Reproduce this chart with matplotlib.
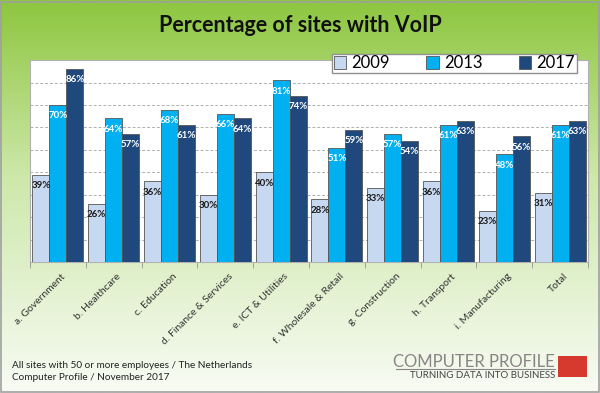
import matplotlib.pyplot as plt
import matplotlib.patches as mpatches
import matplotlib.lines as mlines
import numpy as np

categories = ['a. Government', 'b. Healthcare', 'c. Education', 'd. Finance & Services',
              'e. ICT & Utilities', 'f. Wholesale & Retail', 'g. Construction',
              'h. Transport', 'i. Manufacturing', 'Total']
years = ['2009', '2013', '2017']
v2009 = [39, 26, 36, 30, 40, 28, 33, 36, 23, 31]
v2013 = [70, 64, 68, 66, 81, 51, 57, 61, 48, 61]
v2017 = [86, 57, 61, 64, 74, 59, 54, 63, 56, 63]

colors = ['#c6d9f1', '#00b0f0', '#1f497d']
label_colors = ['#1a1a1a', 'white', 'white']

fig = plt.figure(figsize=(6.0, 3.93), dpi=100)
plt.rcParams['font.family'] = ['Lato', 'DejaVu Sans']

# gradient background
bg = fig.add_axes([0, 0, 1, 1], zorder=-10)
top = np.array([141, 198, 63]) / 255
mid = np.array([205, 232, 170]) / 255
bot = np.array([248, 251, 244]) / 255
t = np.linspace(0, 1, 256)[:, None]
grad = np.where(t < 0.45, top + (mid - top) * (t / 0.45),
                mid + (bot - mid) * ((t - 0.45) / 0.55))
bg.imshow(grad[:, None, :], aspect='auto', extent=[0, 1, 0, 1])
bg.set_xlim(0, 1)
bg.set_ylim(0, 1)
bg.axis('off')
fig.patches.append(mpatches.Rectangle((0.002, 0.002), 0.996, 0.994, transform=fig.transFigure,
                                      fill=False, edgecolor='#a0a0a0', linewidth=1.2))

ax = fig.add_axes([0.05, 0.333, 0.93, 0.514])
x = np.arange(len(categories))
w = 0.305
for i, (vals, c, lc) in enumerate(zip([v2009, v2013, v2017], colors, label_colors)):
    bars = ax.bar(x + (i - 1) * w, vals, w, color=c, edgecolor='#555555',
                  linewidth=0.6, label=years[i], zorder=3)
    for b, v in zip(bars, vals):
        ax.text(b.get_x() + b.get_width() / 2, v - 4.8, f'{v}%', ha='center',
                va='center', fontsize=7, fontweight='bold', color=lc, zorder=4)

ax.set_ylim(0, 90)
ax.set_xlim(-0.5, len(categories) - 0.5)
ax.set_yticks(np.arange(10, 90, 10))
ax.tick_params(axis='y', length=0, labelleft=False)
ax.yaxis.grid(True, linestyle=(0, (3, 2)), color='#b0b0b0', linewidth=0.7, zorder=0)
ax.set_xticks(x + 0.05)
ax.set_xticklabels(categories, rotation=45, ha='right', rotation_mode='anchor',
                   fontsize=7.5, color='#333333')
ax.tick_params(axis='x', length=0, pad=7)
ax.set_xticks(np.arange(-0.5, len(categories), 1), minor=True)
ax.tick_params(axis='x', which='minor', length=4, color='#999999')
for s in ax.spines.values():
    s.set_color('#b0b0b0')
ax.set_facecolor('white')

fig.legend(loc='center', bbox_to_anchor=(0.757, 0.839), ncol=3, fontsize=12,
           frameon=True, fancybox=False, edgecolor='#909090', framealpha=1,
           handlelength=0.75, handleheight=0.75, columnspacing=2.2,
           borderpad=0.1, handletextpad=0.3, borderaxespad=0)

fig.text(0.5, 0.936, 'Percentage of sites with VoIP', ha='center', va='center',
         fontsize=15.5, fontweight='bold', color='#111111')
fig.text(0.02, 0.071, 'All sites with 50 or more employees / The Netherlands',
         fontsize=7.2, color='#222222', va='center')
fig.text(0.02, 0.040, 'Computer Profile / November 2017',
         fontsize=7.2, color='#222222', va='center')

# logo
fig.text(0.925, 0.080, 'COMPUTER PROFILE', ha='right', va='center', fontsize=12,
         color='#8a8585')
fig.lines.append(mlines.Line2D([0.66, 0.925], [0.061, 0.061], transform=fig.transFigure,
                               color='#8a8585', linewidth=0.8))
fig.text(0.925, 0.044, 'TURNING DATA INTO BUSINESS', ha='right', va='center',
         fontsize=7, color='#444444')
fig.patches.append(mpatches.Rectangle((0.930, 0.041), 0.048, 0.053, transform=fig.transFigure,
                                      facecolor='#d63a2f', edgecolor='none'))

fig.savefig('out.png', dpi=100)
